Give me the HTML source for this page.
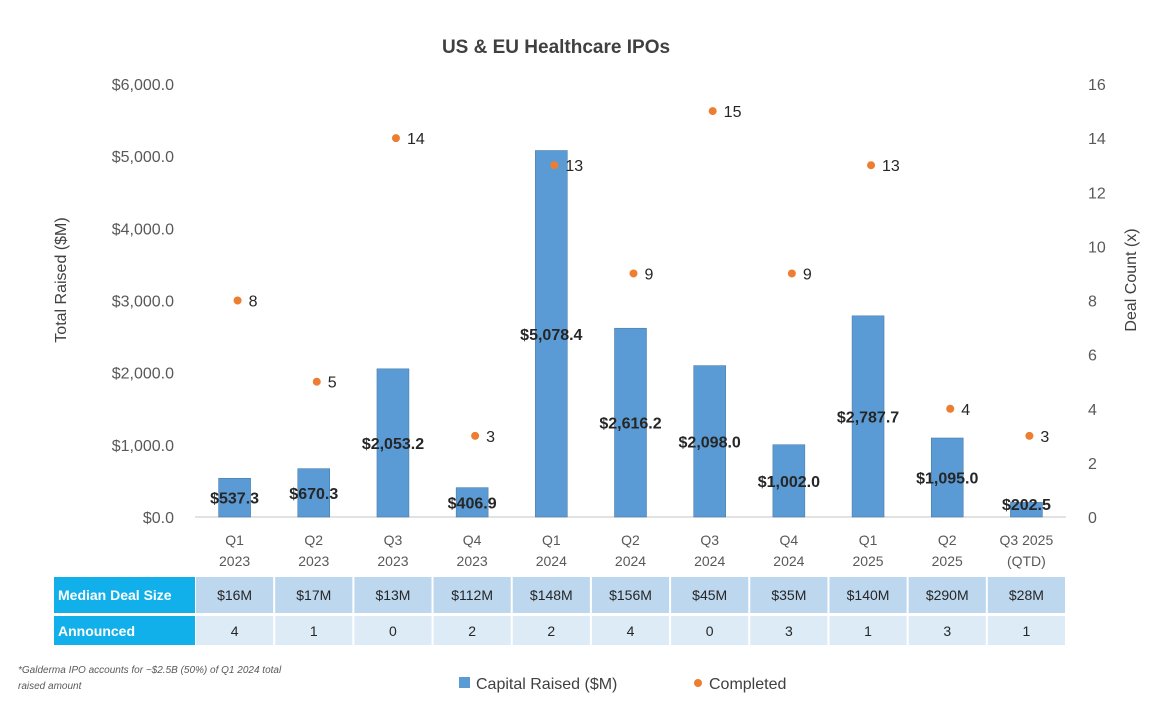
<!DOCTYPE html>
<html><head><meta charset="utf-8"><style>
body{margin:0;background:#fff;font-family:"Liberation Sans",sans-serif;}
svg text{font-family:"Liberation Sans",sans-serif;}
</style></head><body>
<svg width="1166" height="715" xmlns="http://www.w3.org/2000/svg">
<text x="556" y="53" text-anchor="middle" font-size="19" font-weight="bold" fill="#404040">US &amp; EU Healthcare IPOs</text>
<text transform="translate(66,280) rotate(-90)" text-anchor="middle" font-size="16" fill="#404040">Total Raised ($M)</text>
<text transform="translate(1136,280) rotate(-90)" text-anchor="middle" font-size="16" fill="#404040">Deal Count (x)</text>
<g id="ticksL"></g><g id="ticksR"></g><g id="cats"></g>
<line x1="195" y1="517" x2="1066" y2="517" stroke="#d9d9d9" stroke-width="1.5"/>
<g id="bars"></g><g id="dots"></g><g id="table"></g>
<text x="18" y="673" font-size="10" font-style="italic" fill="#595959">*Galderma IPO accounts for ~$2.5B (50%) of Q1 2024 total</text>
<text x="18" y="689" font-size="10" font-style="italic" fill="#595959">raised amount</text>
<rect x="459" y="677" width="11" height="11" fill="#5b9bd5"/>
<text x="476" y="689" font-size="16" fill="#404040">Capital Raised ($M)</text>
<circle cx="698" cy="683" r="4" fill="#ed7d31"/>
<text x="709" y="689" font-size="16" fill="#404040">Completed</text>
</svg>
<script>
const categories=[["Q1","2023"],["Q2","2023"],["Q3","2023"],["Q4","2023"],["Q1","2024"],["Q2","2024"],["Q3","2024"],["Q4","2024"],["Q1","2025"],["Q2","2025"],["Q3 2025","(QTD)"]];
const capital=[537.3,670.3,2053.2,406.9,5078.4,2616.2,2098.0,1002.0,2787.7,1095.0,202.5];
const completed=[8,5,14,3,13,9,15,9,13,4,3];
const medianDeal=["$16M","$17M","$13M","$112M","$148M","$156M","$45M","$35M","$140M","$290M","$28M"];
const announced=[4,1,0,2,2,4,0,3,1,3,1];
const leftTicks=[0,1000,2000,3000,4000,5000,6000];
const rightTicks=[0,2,4,6,8,10,12,14,16];
const NS="http://www.w3.org/2000/svg";
const x0=195,x1=1066,yb=517,yt=84;
const bw=(x1-x0)/categories.length;
const xc=i=>x0+bw*(i+0.5);
const yL=v=>yb-(v/6000)*(yb-yt);
const yR=v=>yb-(v/16)*(yb-yt);
function mk(tag,attrs,parent,txt){const e=document.createElementNS(NS,tag);for(const k in attrs)e.setAttribute(k,attrs[k]);if(txt!==undefined)e.textContent=txt;document.getElementById(parent).appendChild(e);return e;}
const fmt=v=>"$"+v.toLocaleString("en-US",{minimumFractionDigits:1,maximumFractionDigits:1});
leftTicks.forEach(v=>{const t=mk("text",{x:174,y:yL(v)+6,"text-anchor":"end","font-size":16,fill:"#595959"},"ticksL",fmt(v));

});
rightTicks.forEach(v=>{const t=mk("text",{x:1088,y:yR(v)+6,"font-size":16,fill:"#595959"},"ticksR",String(v));

});
categories.forEach((c,i)=>{
 const a=mk("text",{x:xc(i),y:545,"text-anchor":"middle","font-size":14,fill:"#595959"},"cats",c[0]);
 
 
 const b=mk("text",{x:xc(i),y:566,"text-anchor":"middle","font-size":14,fill:"#595959"},"cats",c[1]);
 
 
 const bar=mk("rect",{x:xc(i)-16,y:yL(capital[i]),width:32,height:yb-yL(capital[i]),fill:"#5b9bd5",stroke:"#41719c","stroke-width":0.5},"bars");
 
 
 const lb=mk("text",{x:xc(i),y:Math.min((yL(capital[i])+yb)/2+6,510),"text-anchor":"middle","font-size":16,"font-weight":"bold",fill:"#262626"},"bars",fmt(capital[i]));
 
 
 const d=mk("circle",{cx:xc(i)+3,cy:yR(completed[i]),r:4,fill:"#ed7d31"},"dots");
 
 
 const dl=mk("text",{x:xc(i)+14,y:yR(completed[i])+6,"font-size":16,fill:"#262626"},"dots",String(completed[i]));
 
 
 const c1=mk("rect",{x:x0+bw*i+1,y:577,width:bw-2,height:36,fill:"#bdd7ee"},"table");
 
 
 const t1=mk("text",{x:xc(i),y:600,"text-anchor":"middle","font-size":14,fill:"#262626"},"table",medianDeal[i]);
 
 
 const c2=mk("rect",{x:x0+bw*i+1,y:616,width:bw-2,height:29,fill:"#ddebf7"},"table");
 
 
 const t2=mk("text",{x:xc(i),y:636,"text-anchor":"middle","font-size":14,fill:"#262626"},"table",String(announced[i]));
 
 
});
const h1=mk("rect",{x:54,y:577,width:141,height:36,fill:"#12b0ea"},"table");


const h1t=mk("text",{x:58,y:600,"font-size":14,"font-weight":"bold",fill:"#fff"},"table","Median Deal Size");


const h2=mk("rect",{x:54,y:616,width:141,height:29,fill:"#12b0ea"},"table");


const h2t=mk("text",{x:58,y:636,"font-size":14,"font-weight":"bold",fill:"#fff"},"table","Announced");


</script>
</body></html>
